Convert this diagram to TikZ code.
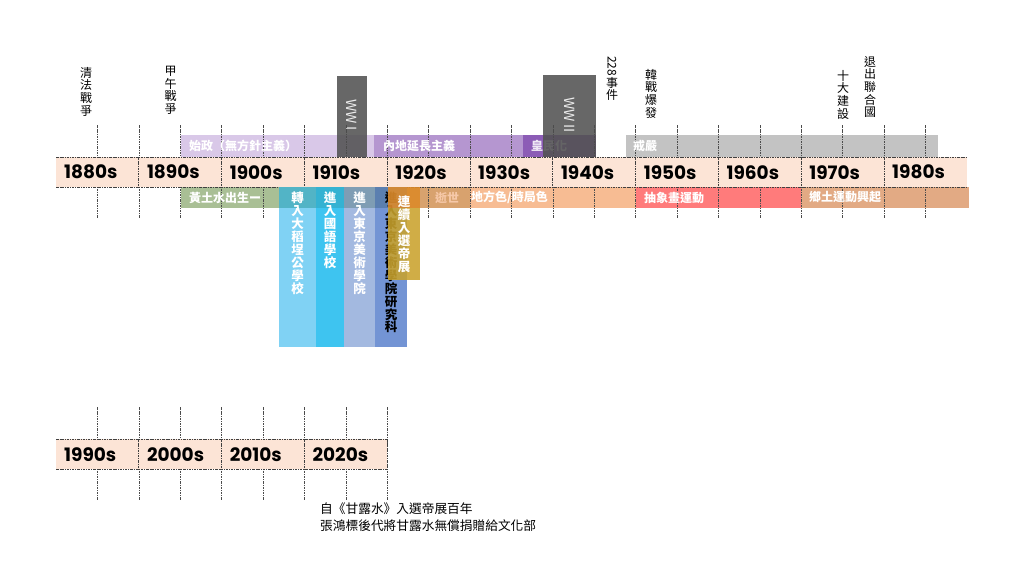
\documentclass[tikz,border=0pt]{standalone}
\usepackage{fontspec}
\setmainfont{Noto Sans CJK TC}
\newfontfamily\decfont{Poppins}
\usetikzlibrary{positioning}

\definecolor{peach}{HTML}{FCE4D6}
\definecolor{shizheng}{HTML}{D9C8E8}
\definecolor{neidi}{HTML}{B596D0}
\definecolor{huangmin}{HTML}{8C5CB6}
\definecolor{jieyan}{HTML}{C3C3C3}
\definecolor{sage}{HTML}{A9BF95}
\definecolor{shishi}{HTML}{D8A26E}
\definecolor{shishitext}{HTML}{F6C8A8}
\definecolor{difang}{HTML}{F7BC93}
\definecolor{chouxiang}{HTML}{FF7B7B}
\definecolor{xiangtu}{HTML}{E2AA84}
\definecolor{gold}{HTML}{C9A22C}
\definecolor{goldtop}{HTML}{DC8A2A}
\definecolor{barone}{HTML}{80D2F4}
\definecolor{baronetop}{HTML}{52B4C6}
\definecolor{bartwo}{HTML}{3EC4F0}
\definecolor{bartwotop}{HTML}{35B2D2}
\definecolor{barthree}{HTML}{A3B9E0}
\definecolor{barthreetop}{HTML}{7F9DB4}
\definecolor{barfour}{HTML}{7394D4}
\definecolor{barfourtop}{HTML}{5B7FB0}

\tikzset{
  tickline/.style={black!70, line width=0.6pt, dash pattern=on 2.5pt off 1pt on 0.8pt off 1pt},
  rowline/.style={black!75, line width=0.8pt, dash pattern=on 2.5pt off 1pt on 0.8pt off 1pt},
  decade/.style={fill=peach, anchor=north west, minimum height=30pt, text width=66.8pt,
    inner xsep=8pt, inner ysep=0pt, align=left, font=\decfont\bfseries\fontsize{18.5}{18.5}\selectfont},
  event/.style={anchor=north, align=center, inner sep=0pt, font=\fontsize{12}{12.6}\selectfont},
  bandtext/.style={anchor=west, inner sep=0pt, text=white, font=\bfseries\fontsize{12}{12}\selectfont},
  bartext/.style={anchor=north, align=center, inner sep=0pt, text=white, font=\bfseries\fontsize{12.5}{12.9}\selectfont},
  wwbox/.style={fill=black!68, fill opacity=0.88},
  wwtext/.style={rotate=-90, inner sep=0pt, text=white!92!black, font=\fontsize{14}{14}\selectfont},
}

\begin{document}
\begin{tikzpicture}[x=1pt,y=-1pt]
\useasboundingbox (0,0) rectangle (1024,576);

% events above the line
\node[event] (qingfa) at (86,67) {清\\法\\戰\\爭};
\node[event] (jiawu) at (170.5,66) {甲\\午\\戰\\爭};
\node[event] (e228) at (612,56) {\rotatebox{-90}{228}\\事\\件};
\node[event] (hanzhan) at (651,69) {韓\\戰\\爆\\發};
\node[event] (shida) at (843,70) {十\\大\\建\\設};
\node[event] (tuichu) at (870,56) {退\\出\\聯\\合\\國};

% upper bands
\fill[shizheng] (181,135) rectangle (374,157);
\fill[neidi] (374,135) rectangle (523,157);
\fill[huangmin] (523,135) rectangle (596,157);
\fill[jieyan] (626,135) rectangle (938,157);
\node[bandtext, text=white!85!huangmin] (thuangmin) at (531,146) {皇民化};

% world wars
\fill[wwbox] (337,76) rectangle (367,157);
\fill[wwbox] (543,74.5) rectangle (596,157);
\node[wwtext] (ww1) at (352,115) {WW I};
\node[wwtext] (ww2) at (569.5,115) {WW II};

% lower bands
\fill[sage] (181,187) rectangle (388,208);
\fill[shishi] (388,187) rectangle (470,208);
\fill[difang] (470,187) rectangle (636,208);
\fill[chouxiang] (636,187) rectangle (801,208);
\fill[xiangtu] (801,187) rectangle (969,208);

% half-decade ticks
\foreach \i in {1,...,21}
  \draw[tickline] ({56+41.4*\i},125) -- ({56+41.4*\i},218);
\foreach \i in {1,...,8}
  \draw[tickline] ({56+41.4*\i},407) -- ({56+41.4*\i},500);

\node[bandtext] (tshizheng) at (189,146) {始政（無方針主義）};
\node[bandtext] (tneidi) at (383,146) {內地延長主義};
\node[bandtext] (tjieyan) at (633,146) {戒嚴};
\node[bandtext] (tbirth) at (189,197.5) {黃土水出生ー};
\node[bandtext, text=shishitext] (tdeath) at (435,197.5) {逝世};
\node[bandtext] (tdifang) at (471,197.5) {地方色/時局色};
\node[bandtext] (tchouxiang) at (644,197.5) {抽象畫運動};
\node[bandtext] (txiangtu) at (809,197.5) {鄉土運動興起};

% decade rows
\foreach \d [count=\i from 0] in {1880,1890,...,1980}
  \node[decade] (d\d) at ({56+82.8*\i},157) {\d s};
\draw[rowline] (d1880.north west) -- (d1980.north east);
\draw[rowline] (d1880.south west) -- (d1980.south east);
\foreach \d in {1890,1900,...,1980}
  \draw[rowline] (d\d.north west) -- (d\d.south west);

\foreach \d [count=\i from 0] in {1990,2000,2010,2020}
  \node[decade] (d\d) at ({56+82.8*\i},439) {\d s};
\draw[rowline] (d1990.north west) -- (d2020.north east);
\draw[rowline] (d1990.south west) -- (d2020.south east);
\foreach \d in {2000,2010,2020}
  \draw[rowline] (d\d.north west) -- (d\d.south west);
\draw[rowline] (d2020.north east) -- (d2020.south east);

% school years
\fill[barone] (279,187) rectangle (316,347);
\fill[baronetop] (279,187) rectangle (316,208);
\fill[bartwo] (316,187) rectangle (344,347);
\fill[bartwotop] (316,187) rectangle (344,208);
\fill[barthree] (344,187) rectangle (375,347);
\fill[barthreetop] (344,187) rectangle (375,208);
\fill[barfour] (375,187) rectangle (407,347);
\fill[barfourtop] (375,187) rectangle (407,208);
\node[bartext] (dadaocheng) at (297.5,192) {轉\\入\\大\\稻\\埕\\公\\學\\校};
\node[bartext] (guoyu) at (330,192) {進\\入\\國\\語\\學\\校};
\node[bartext] (meishu) at (359.5,192) {進\\入\\東\\京\\美\\術\\學\\院};
\node[bartext, text=black] (yanjiu) at (391,192) {進\\入\\東\\京\\美\\術\\學\\院\\研\\究\\科};

% imperial exhibitions
\fill[gold, fill opacity=0.88] (388,208) rectangle (420,280);
\fill[goldtop, fill opacity=0.9] (388,187) rectangle (420,208);
\node[bartext] (diten) at (404,196) {連\\續\\入\\選\\帝\\展};

\node[anchor=north west, align=left, inner sep=0pt, font=\fontsize{12.7}{17}\selectfont] (note) at (320,503)
  {自《甘露水》入選帝展百年\\張鴻標後代將甘露水無償捐贈給文化部};
\end{tikzpicture}
\end{document}
